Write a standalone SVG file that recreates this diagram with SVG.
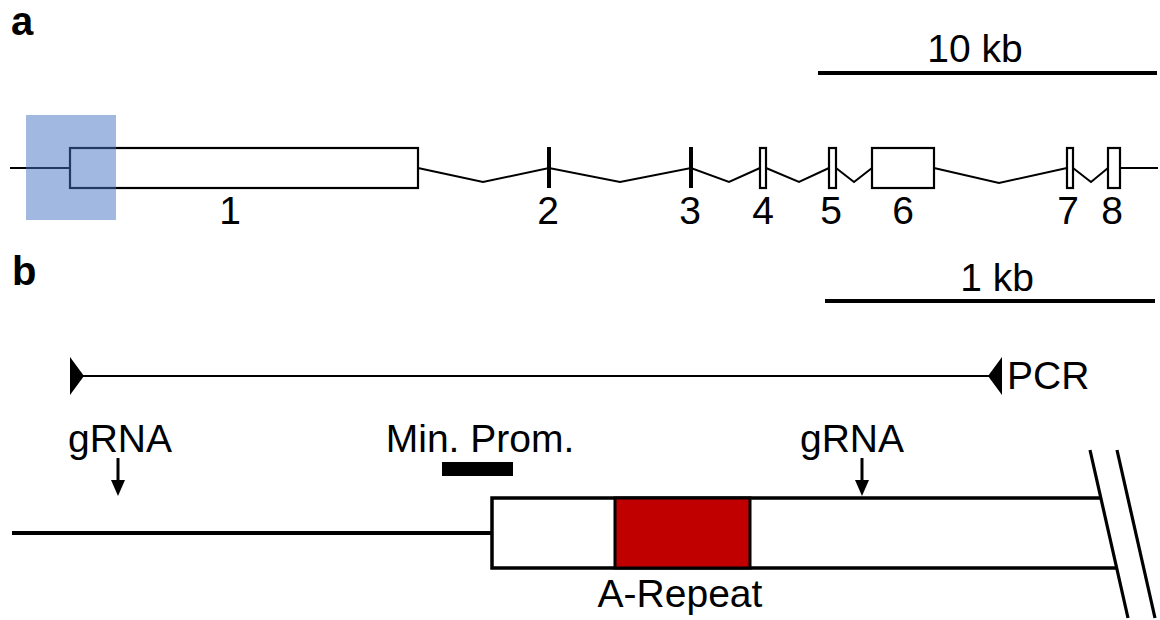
<svg xmlns="http://www.w3.org/2000/svg" width="1160" height="620" viewBox="0 0 1160 620">
<style>
text{font-family:"Liberation Sans",Arial,sans-serif;font-size:39px;fill:#000}
.panel{font-weight:bold;font-size:40px}
.mid{text-anchor:middle}
.thin{stroke:#000;stroke-width:2;fill:none}
.thick{stroke:#000;stroke-width:4;fill:none}
.exon{stroke:#000;stroke-width:2.2;fill:#fff}
.box{stroke:#000;stroke-width:3.5;fill:#fff}
.shaft{stroke:#000;stroke-width:3;fill:none}
.brk{stroke:#000;stroke-width:3.2;fill:none}
</style>
<rect width="1160" height="620" fill="#fff"/>
<g id="panel-a">
<text class="panel" x="11" y="35">a</text>
<g id="scale-a">
<text class="mid" x="975" y="62">10 kb</text>
<line class="thick" x1="818" y1="73" x2="1157" y2="73"/>
</g>
<g id="gene-a">
<line class="thin" x1="10" y1="168" x2="70" y2="168"/>
<rect id="exon1" class="exon" x="70" y="148" width="348" height="40"/>
<polyline class="thin" points="418,168 483,182 549,168 620,182 691,168 729,182 760,168"/>
<line id="exon2" class="thick" x1="549" y1="147" x2="549" y2="188"/>
<line id="exon3" class="thick" x1="691" y1="147" x2="691" y2="188"/>
<rect id="exon4" class="exon" x="760" y="148" width="6" height="40"/>
<polyline class="thin" points="766,168 799,182 829,168"/>
<rect id="exon5" class="exon" x="829" y="148" width="7" height="40"/>
<polyline class="thin" points="836,168 854,182 872,168"/>
<rect id="exon6" class="exon" x="872" y="148" width="62" height="40"/>
<polyline class="thin" points="934,168 999,183 1067,168"/>
<rect id="exon7" class="exon" x="1067" y="148" width="6" height="40"/>
<polyline class="thin" points="1073,168 1091,182 1108,168"/>
<rect id="exon8" class="exon" x="1108" y="148" width="12" height="40"/>
<line class="thin" x1="1120" y1="168" x2="1158" y2="168"/>
<rect id="highlight" x="26" y="115" width="90" height="105" fill="#4472c4" fill-opacity="0.5"/>
</g>
<g id="labels-a">
<text class="mid" x="230" y="224">1</text>
<text class="mid" x="548" y="224">2</text>
<text class="mid" x="690" y="224">3</text>
<text class="mid" x="763" y="224">4</text>
<text class="mid" x="831" y="224">5</text>
<text class="mid" x="903" y="224">6</text>
<text class="mid" x="1068" y="224">7</text>
<text class="mid" x="1112" y="224">8</text>
</g>
</g>
<g id="panel-b">
<text class="panel" x="12" y="285">b</text>
<g id="scale-b">
<text class="mid" x="997" y="291">1 kb</text>
<line class="thick" x1="825" y1="301" x2="1155" y2="301"/>
</g>
<g id="pcr">
<line class="thin" x1="80" y1="376" x2="992" y2="376"/>
<polygon points="70,357 70,395 84,376" fill="#000"/>
<polygon points="988,376 1002,357 1002,395" fill="#000"/>
<text x="1007" y="389">PCR</text>
</g>
<g id="grna-left">
<text class="mid" x="120" y="452">gRNA</text>
<line class="shaft" x1="118" y1="458" x2="118" y2="484"/>
<polygon points="111,480 125,480 118,496" fill="#000"/>
</g>
<g id="min-prom">
<text class="mid" x="480" y="452">Min. Prom.</text>
<rect x="442" y="462" width="71" height="14" fill="#000"/>
</g>
<g id="grna-right">
<text class="mid" x="852" y="452">gRNA</text>
<line class="shaft" x1="862" y1="458" x2="862" y2="484"/>
<polygon points="855,480 869,480 862,496" fill="#000"/>
</g>
<g id="locus">
<line class="thick" x1="12" y1="533" x2="492" y2="533"/>
<polygon points="492,498 1100,498 1116,568 492,568" fill="#fff"/>
<polyline class="box" points="1100,498 492,498 492,568 1116,568"/>
<rect id="a-repeat" x="615" y="498" width="135" height="70" fill="#c00000" stroke="#000" stroke-width="3"/>
<text class="mid" x="680" y="607">A-Repeat</text>
<line class="brk" x1="1090" y1="450" x2="1128" y2="618"/>
<line class="brk" x1="1117" y1="450" x2="1155" y2="618"/>
</g>
</g>
</svg>
